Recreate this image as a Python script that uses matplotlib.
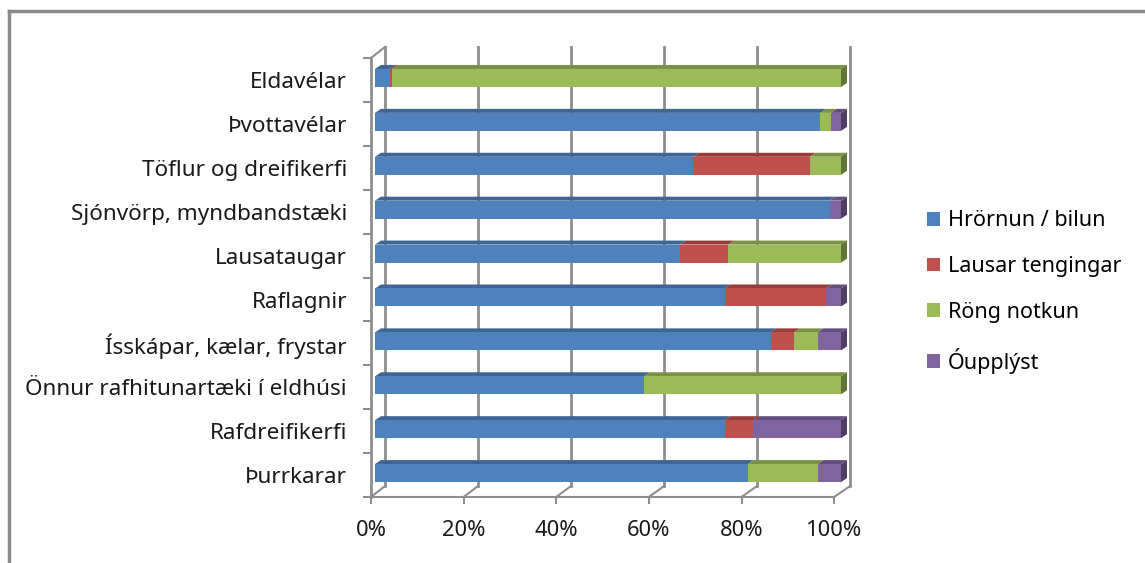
import matplotlib.pyplot as plt
import numpy as np
from matplotlib.patches import Polygon, Rectangle
from matplotlib.lines import Line2D
import matplotlib.colors as mcolors

categories = ['Eldavélar', 'Þvottavélar', 'Töflur og dreifikerfi', 'Sjónvörp, myndbandstæki',
              'Lausataugar', 'Raflagnir', 'Ísskápar, kælar, frystar',
              'Önnur rafhitunartæki í eldhúsi', 'Rafdreifikerfi', 'Þurrkarar']
series = ['Hrörnun / bilun', 'Lausar tengingar', 'Röng notkun', 'Óupplýst']
hrornun = [3.2, 95.6, 68.3, 97.6, 65.5, 75.0, 84.9, 57.8, 75.0, 80.0]
lausar = [0.5, 0.0, 25.0, 0.0, 10.3, 21.8, 5.0, 0.0, 6.2, 0.0]
rong = [96.3, 2.2, 6.7, 0.0, 24.2, 0.0, 5.1, 42.2, 0.0, 15.0]
oupplyst = [0.0, 2.2, 0.0, 2.4, 0.0, 3.2, 5.0, 0.0, 18.8, 5.0]
ticks = [0, 20, 40, 60, 80, 100]
colors = ['#4F81BD', '#C0504D', '#9BBB59', '#8064A2']

plt.rcParams['font.family'] = ['Noto Sans', 'DejaVu Sans']
FS = 15.8


def shade(c, f):
	r, g, b = mcolors.to_rgb(c)
	return (r * f, g * f, b * f)


def main():
	fig = plt.figure(figsize=(11.45, 5.63), dpi=100)
	W, H = 1145, 563
	# axes: x 0..100 -> 375..841 px, categories -0.5..9.5 -> 58..497 px
	ax = fig.add_axes([375 / W, (H - 497) / H, 466 / W, 439 / H])
	ax.set_xlim(0, 100)
	ax.set_ylim(9.5, -0.5)
	ax.axis('off')

	sx = 466 / 100.0
	sy = 439 / 10.0
	ddx, ddy = 6 / sx, -4 / sy          # bar depth
	wdx, wdy = 14 / sx, -11 / sy        # wall depth
	fdx = -4 / sx                       # front plane offset
	gc = '#8e8e8e'

	# back wall gridlines and floor
	for v in ticks:
		xb = v * 0.998 + fdx + wdx
		xf = v * 0.994 + fdx
		ax.plot([xb, xb], [9.5 + wdy, -0.5 + wdy], color=gc, lw=2, clip_on=False, zorder=1)
		ax.plot([xf, xb], [9.5, 9.5 + wdy], color=gc, lw=1.5, clip_on=False, zorder=1)
		ax.plot([xf, xf], [9.5, 9.5 + 6 / sy], color=gc, lw=1.5, clip_on=False, zorder=1)
		ax.text(xf, 9.5 + 33 / sy, f'{v}%', ha='center', va='center', fontsize=FS, color='#1a1a1a')
	ax.plot([fdx, 100 * 0.994 + fdx], [9.5, 9.5], color=gc, lw=1.5, clip_on=False, zorder=1)
	# left wall
	ax.plot([fdx, fdx], [-0.5, 9.5], color=gc, lw=2, clip_on=False, zorder=1)
	ax.plot([fdx, fdx + wdx], [-0.5, -0.5 + wdy], color=gc, lw=1.5, clip_on=False, zorder=1)
	for k in range(len(categories) + 1):
		ax.plot([fdx - 7 / sx, fdx], [k - 0.5, k - 0.5], color=gc, lw=1.5, clip_on=False, zorder=1)

	for i, name in enumerate(categories):
		ax.text(fdx - 24 / sx, i + 0.06, name, ha='right', va='center', fontsize=FS + 0.4, color='#1a1a1a')

	data = [hrornun, lausar, rong, oupplyst]
	y = np.arange(len(categories)) - 0.045
	h = 0.41
	left = np.zeros(len(categories))
	for s, vals in enumerate(data):
		vals = np.array(vals)
		ax.barh(y, vals, height=h, left=left, color=colors[s], edgecolor='none', zorder=3,
				label=series[s])
		for i in range(len(categories)):
			if vals[i] <= 0:
				continue
			x0, x1 = left[i], left[i] + vals[i]
			yt = y[i] - h / 2
			top = Polygon([(x0, yt), (x1, yt), (x1 + ddx, yt + ddy), (x0 + ddx, yt + ddy)],
						  closed=True, facecolor=shade(colors[s], 0.78), edgecolor='none',
						  zorder=2, clip_on=False)
			ax.add_patch(top)
			if x1 >= 99.5:
				side = Polygon([(x1, yt), (x1 + ddx, yt + ddy), (x1 + ddx, yt + ddy + h), (x1, yt + h)],
							   closed=True, facecolor=shade(colors[s], 0.62), edgecolor='none',
							   zorder=4, clip_on=False)
				ax.add_patch(side)
		left = left + vals

	handles = [Rectangle((0, 0), 1, 1, facecolor=c, edgecolor='none') for c in colors]
	fig.legend(handles, series, loc='center left', bbox_to_anchor=(908 / W, 1 - 292 / H),
			   frameon=False, fontsize=FS - 0.3, handlelength=0.6, handleheight=0.6,
			   handletextpad=0.35, labelspacing=1.15)

	# outer chart border
	fig.add_artist(Line2D([9 / W, 9 / W], [0, 1 - 11 / H], color='#8a8a8a', lw=2.5))
	fig.add_artist(Line2D([9 / W, 1], [1 - 11 / H, 1 - 11 / H], color='#8a8a8a', lw=2.5))

	fig.savefig('out.png', dpi=100, facecolor='white')


if __name__ == '__main__':
	main()
